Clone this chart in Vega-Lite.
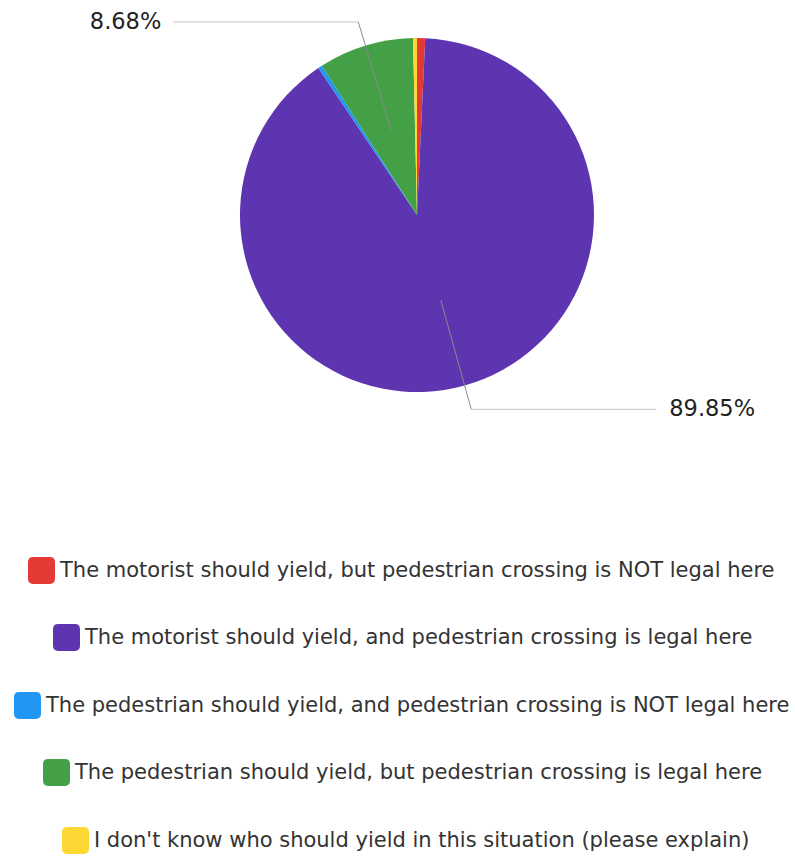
{
  "$schema": "https://vega.github.io/schema/vega-lite/v6.json",
  "width": 756,
  "height": 430,
  "padding": {"left": 39, "top": 0, "right": 0, "bottom": 426},
  "autosize": {"type": "none"},
  "background": "white",
  "config": {
    "view": {"stroke": null},
    "font": "DejaVu Sans",
    "legend": {
      "title": null,
      "padding": 0,
      "direction": "vertical",
      "labelFontSize": 21,
      "labelColor": "#333333",
      "labelFont": "DejaVu Sans",
      "labelLimit": 0,
      "labelOffset": 5,
      "symbolType": "M-1,-0.62Q-1,-1,-0.62,-1L0.62,-1Q1,-1,1,-0.62L1,0.62Q1,1,0.62,1L-0.62,1Q-1,1,-1,0.62Z",
      "symbolSize": 729,
      "symbolStrokeWidth": 0,
      "symbolOpacity": 1
    }
  },
  "data": {
    "values": [
      {"answer": "The motorist should yield, but pedestrian crossing is NOT legal here", "percent": 0.74},
      {"answer": "The motorist should yield, and pedestrian crossing is legal here", "percent": 89.85},
      {"answer": "The pedestrian should yield, and pedestrian crossing is NOT legal here", "percent": 0.37},
      {"answer": "The pedestrian should yield, but pedestrian crossing is legal here", "percent": 8.68},
      {"answer": "I don't know who should yield in this situation (please explain)", "percent": 0.36}
    ]
  },
  "transform": [
    {"window": [{"op": "row_number", "as": "rank"}]},
    {"stack": "percent", "groupby": [], "sort": [{"field": "rank", "order": "ascending"}], "as": ["p0", "p1"]},
    {"calculate": "(datum.p0 + datum.p1) * PI / 100", "as": "mid"},
    {"calculate": "sin(datum.mid) < 0 ? -1 : 1", "as": "side"},
    {"calculate": "0.5 * sin(datum.mid)", "as": "xa"},
    {"calculate": "0.5 * cos(datum.mid)", "as": "ya"},
    {"calculate": "1.14 * sin(datum.mid)", "as": "xb"},
    {"calculate": "1.14 * cos(datum.mid)", "as": "yb"},
    {"calculate": "datum.xb + datum.side * 1.045", "as": "xc"},
    {"calculate": "format(datum.percent, '.2f') + '%'", "as": "label"}
  ],
  "resolve": {"scale": {"color": "independent"}, "legend": {"color": "independent"}},
  "layer": [
    {
      "transform": [{"filter": "datum.rank == 1"}],
      "mark": {"type": "arc", "outerRadius": 177, "stroke": null},
      "encoding": {
        "theta": {"field": "p0", "type": "quantitative", "scale": {"domain": [0, 100]}},
        "theta2": {"field": "p1"},
        "color": {
          "field": "answer", "type": "nominal",
          "scale": {"domain": ["The motorist should yield, but pedestrian crossing is NOT legal here"], "range": ["#e53935"]},
          "legend": {"orient": "none", "legendX": -11, "legendY": 557}
        }
      }
    },
    {
      "transform": [{"filter": "datum.rank == 2"}],
      "mark": {"type": "arc", "outerRadius": 177, "stroke": null},
      "encoding": {
        "theta": {"field": "p0", "type": "quantitative", "scale": {"domain": [0, 100]}},
        "theta2": {"field": "p1"},
        "color": {
          "field": "answer", "type": "nominal",
          "scale": {"domain": ["The motorist should yield, and pedestrian crossing is legal here"], "range": ["#5e35b1"]},
          "legend": {"orient": "none", "legendX": 14, "legendY": 624}
        }
      }
    },
    {
      "transform": [{"filter": "datum.rank == 3"}],
      "mark": {"type": "arc", "outerRadius": 177, "stroke": null},
      "encoding": {
        "theta": {"field": "p0", "type": "quantitative", "scale": {"domain": [0, 100]}},
        "theta2": {"field": "p1"},
        "color": {
          "field": "answer", "type": "nominal",
          "scale": {"domain": ["The pedestrian should yield, and pedestrian crossing is NOT legal here"], "range": ["#2196f3"]},
          "legend": {"orient": "none", "legendX": -25, "legendY": 692}
        }
      }
    },
    {
      "transform": [{"filter": "datum.rank == 4"}],
      "mark": {"type": "arc", "outerRadius": 177, "stroke": null},
      "encoding": {
        "theta": {"field": "p0", "type": "quantitative", "scale": {"domain": [0, 100]}},
        "theta2": {"field": "p1"},
        "color": {
          "field": "answer", "type": "nominal",
          "scale": {"domain": ["The pedestrian should yield, but pedestrian crossing is legal here"], "range": ["#43a047"]},
          "legend": {"orient": "none", "legendX": 4, "legendY": 759}
        }
      }
    },
    {
      "transform": [{"filter": "datum.rank == 5"}],
      "mark": {"type": "arc", "outerRadius": 177, "stroke": null},
      "encoding": {
        "theta": {"field": "p0", "type": "quantitative", "scale": {"domain": [0, 100]}},
        "theta2": {"field": "p1"},
        "color": {
          "field": "answer", "type": "nominal",
          "scale": {"domain": ["I don't know who should yield in this situation (please explain)"], "range": ["#fdd835"]},
          "legend": {"orient": "none", "legendX": 23, "legendY": 827}
        }
      }
    },
    {
      "transform": [{"filter": "datum.percent > 5"}],
      "mark": {"type": "rule", "color": "#8a8a8a", "strokeWidth": 1},
      "encoding": {
        "x": {"field": "xa", "type": "quantitative", "scale": {"domain": [-2.13559, 2.13559], "nice": false, "zero": false}, "axis": null},
        "y": {"field": "ya", "type": "quantitative", "scale": {"domain": [-1.21469, 1.21469], "nice": false, "zero": false}, "axis": null},
        "x2": {"field": "xb"},
        "y2": {"field": "yb"}
      }
    },
    {
      "transform": [{"filter": "datum.percent > 5"}],
      "mark": {"type": "rule", "color": "#c4c4c4", "strokeWidth": 1},
      "encoding": {
        "x": {"field": "xb", "type": "quantitative", "scale": {"domain": [-2.13559, 2.13559], "nice": false, "zero": false}, "axis": null},
        "y": {"field": "yb", "type": "quantitative", "scale": {"domain": [-1.21469, 1.21469], "nice": false, "zero": false}, "axis": null},
        "x2": {"field": "xc"}
      }
    },
    {
      "transform": [{"filter": "datum.percent > 5 && datum.side < 0"}],
      "mark": {"type": "text", "align": "right", "baseline": "middle", "dx": -12, "fontSize": 22.5, "color": "#222222", "font": "DejaVu Sans"},
      "encoding": {
        "x": {"field": "xc", "type": "quantitative", "scale": {"domain": [-2.13559, 2.13559], "nice": false, "zero": false}, "axis": null},
        "y": {"field": "yb", "type": "quantitative", "scale": {"domain": [-1.21469, 1.21469], "nice": false, "zero": false}, "axis": null},
        "text": {"field": "label"}
      }
    },
    {
      "transform": [{"filter": "datum.percent > 5 && datum.side > 0"}],
      "mark": {"type": "text", "align": "left", "baseline": "middle", "dx": 13, "fontSize": 22.5, "color": "#222222", "font": "DejaVu Sans"},
      "encoding": {
        "x": {"field": "xc", "type": "quantitative", "scale": {"domain": [-2.13559, 2.13559], "nice": false, "zero": false}, "axis": null},
        "y": {"field": "yb", "type": "quantitative", "scale": {"domain": [-1.21469, 1.21469], "nice": false, "zero": false}, "axis": null},
        "text": {"field": "label"}
      }
    }
  ]
}
